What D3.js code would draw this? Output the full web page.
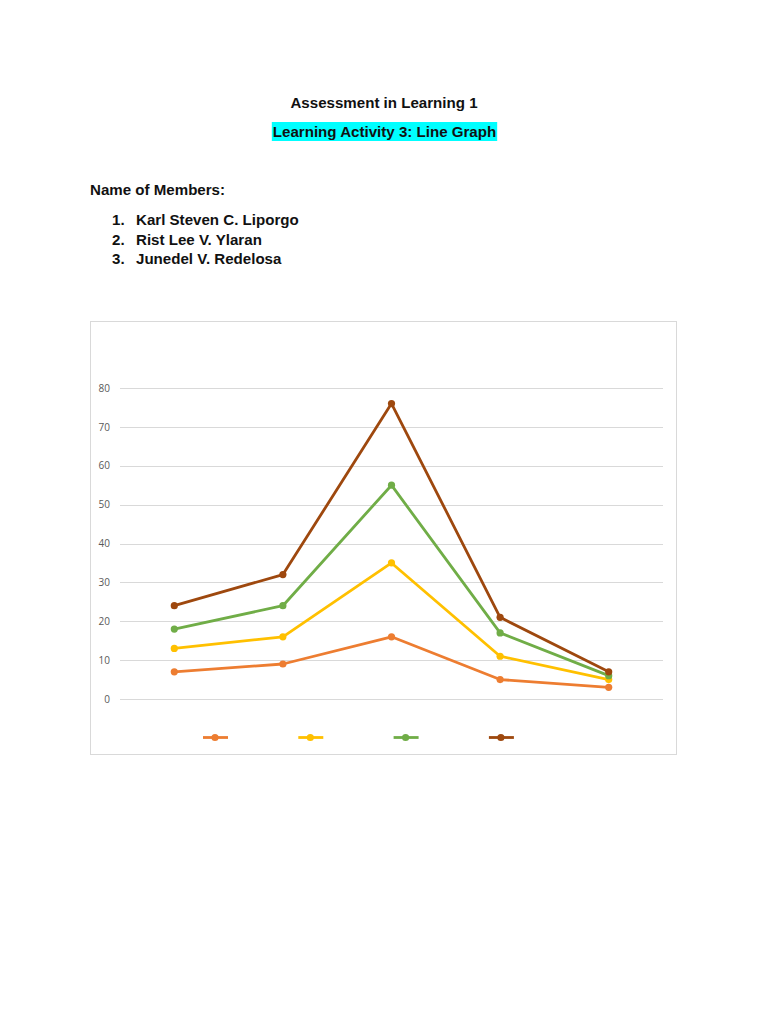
<!DOCTYPE html>
<html>
<head>
<meta charset="utf-8">
<script src="https://cdn.jsdelivr.net/npm/d3@7"></script>
<style>
  body { margin: 0; background: #fff; }
  svg { display: block; }
</style>
</head>
<body>
<div id="page"></div>
<script>
// chart values
const categories = ["A", "B", "C", "D", "E"];
const seriesNames = ["Series 1", "Series 2", "Series 3", "Series 4"];
const series1 = [7, 9, 16, 5, 3];
const series2 = [13, 16, 35, 11, 5];
const series3 = [18, 24, 55, 17, 6];
const series4 = [24, 32, 76, 21, 7];
const yTicks = [0, 10, 20, 30, 40, 50, 60, 70, 80];
const members = ["Karl Steven C. Liporgo", "Rist Lee V. Ylaran", "Junedel V. Redelosa"];

const colors = ["#ED7D31", "#FFC000", "#70AD47", "#9E480E"];
const allSeries = [series1, series2, series3, series4];

const width = 768, height = 1024;
const svg = d3.select("#page").append("svg")
    .attr("width", width)
    .attr("height", height);

const font = "'Liberation Sans', Arial, sans-serif";
const fs = "15.1px";

// header text
svg.append("text")
    .attr("x", 384).attr("y", 108)
    .attr("text-anchor", "middle")
    .style("font-family", font).style("font-weight", "bold").style("font-size", fs)
    .attr("fill", "#111")
    .text("Assessment in Learning 1");

const hl = svg.append("rect").attr("fill", "#00FFFF");
const sub = svg.append("text")
    .attr("x", 384.5).attr("y", 137)
    .attr("text-anchor", "middle")
    .style("font-family", font).style("font-weight", "bold").style("font-size", fs)
    .attr("fill", "#111")
    .text("Learning Activity 3: Line Graph");
const bb = sub.node().getBBox();
hl.attr("x", bb.x - 1).attr("y", 122)
    .attr("width", bb.width + 2).attr("height", 19);

svg.append("text")
    .attr("x", 90).attr("y", 195)
    .style("font-family", font).style("font-weight", "bold").style("font-size", fs)
    .attr("fill", "#111")
    .text("Name of Members:");

members.forEach((m, i) => {
    const yy = 225 + i * 19.5;
    svg.append("text")
        .attr("x", 112).attr("y", yy)
        .style("font-family", font).style("font-weight", "bold").style("font-size", fs)
        .attr("fill", "#111")
        .text((i + 1) + ".");
    svg.append("text")
        .attr("x", 136).attr("y", yy)
        .style("font-family", font).style("font-weight", "bold").style("font-size", fs)
        .attr("fill", "#111")
        .text(m);
});

// chart box
svg.append("rect")
    .attr("x", 90.5).attr("y", 321.5)
    .attr("width", 586).attr("height", 433)
    .attr("fill", "#fff")
    .attr("stroke", "#d9d9d9");

const x = d3.scalePoint()
    .domain(categories)
    .range([120, 663])
    .padding(0.5);

const y = d3.scaleLinear()
    .domain([0, 80])
    .range([699, 388]);

// gridlines
svg.append("g")
    .selectAll("line")
    .data(yTicks)
    .join("line")
    .attr("x1", 120).attr("x2", 663)
    .attr("y1", d => Math.round(y(d)) + 0.5)
    .attr("y2", d => Math.round(y(d)) + 0.5)
    .attr("stroke", "#d9d9d9")
    .attr("stroke-width", 1);

// y axis labels
const yAxis = svg.append("g")
    .attr("transform", "translate(110,0)")
    .call(d3.axisLeft(y).tickValues(yTicks).tickSize(0).tickPadding(0));
yAxis.select(".domain").remove();
yAxis.selectAll("text")
    .style("font-family", "'Open Sans', 'Noto Sans', sans-serif")
    .style("font-size", "10px")
    .attr("fill", "#595959");

// lines
const line = d3.line()
    .x((d, i) => x(categories[i]))
    .y(d => y(d));

allSeries.forEach((vals, si) => {
    svg.append("path")
        .datum(vals)
        .attr("fill", "none")
        .attr("stroke", colors[si])
        .attr("stroke-width", 2.8)
        .attr("stroke-linejoin", "round")
        .attr("d", line);
    svg.append("g")
        .selectAll("circle")
        .data(vals)
        .join("circle")
        .attr("cx", (d, i) => x(categories[i]))
        .attr("cy", d => y(d))
        .attr("r", 3.6)
        .attr("fill", colors[si]);
});

// legend (series names are blank in the picture)
const legend = svg.append("g").attr("transform", "translate(215,737.5)");
seriesNames.forEach((name, i) => {
    const g = legend.append("g").attr("transform", `translate(${i * 95.3},0)`);
    g.append("line")
        .attr("x1", -12).attr("x2", 13)
        .attr("stroke", colors[i])
        .attr("stroke-width", 2.8);
    g.append("circle")
        .attr("r", 3.6)
        .attr("fill", colors[i]);
});
</script>
</body>
</html>
